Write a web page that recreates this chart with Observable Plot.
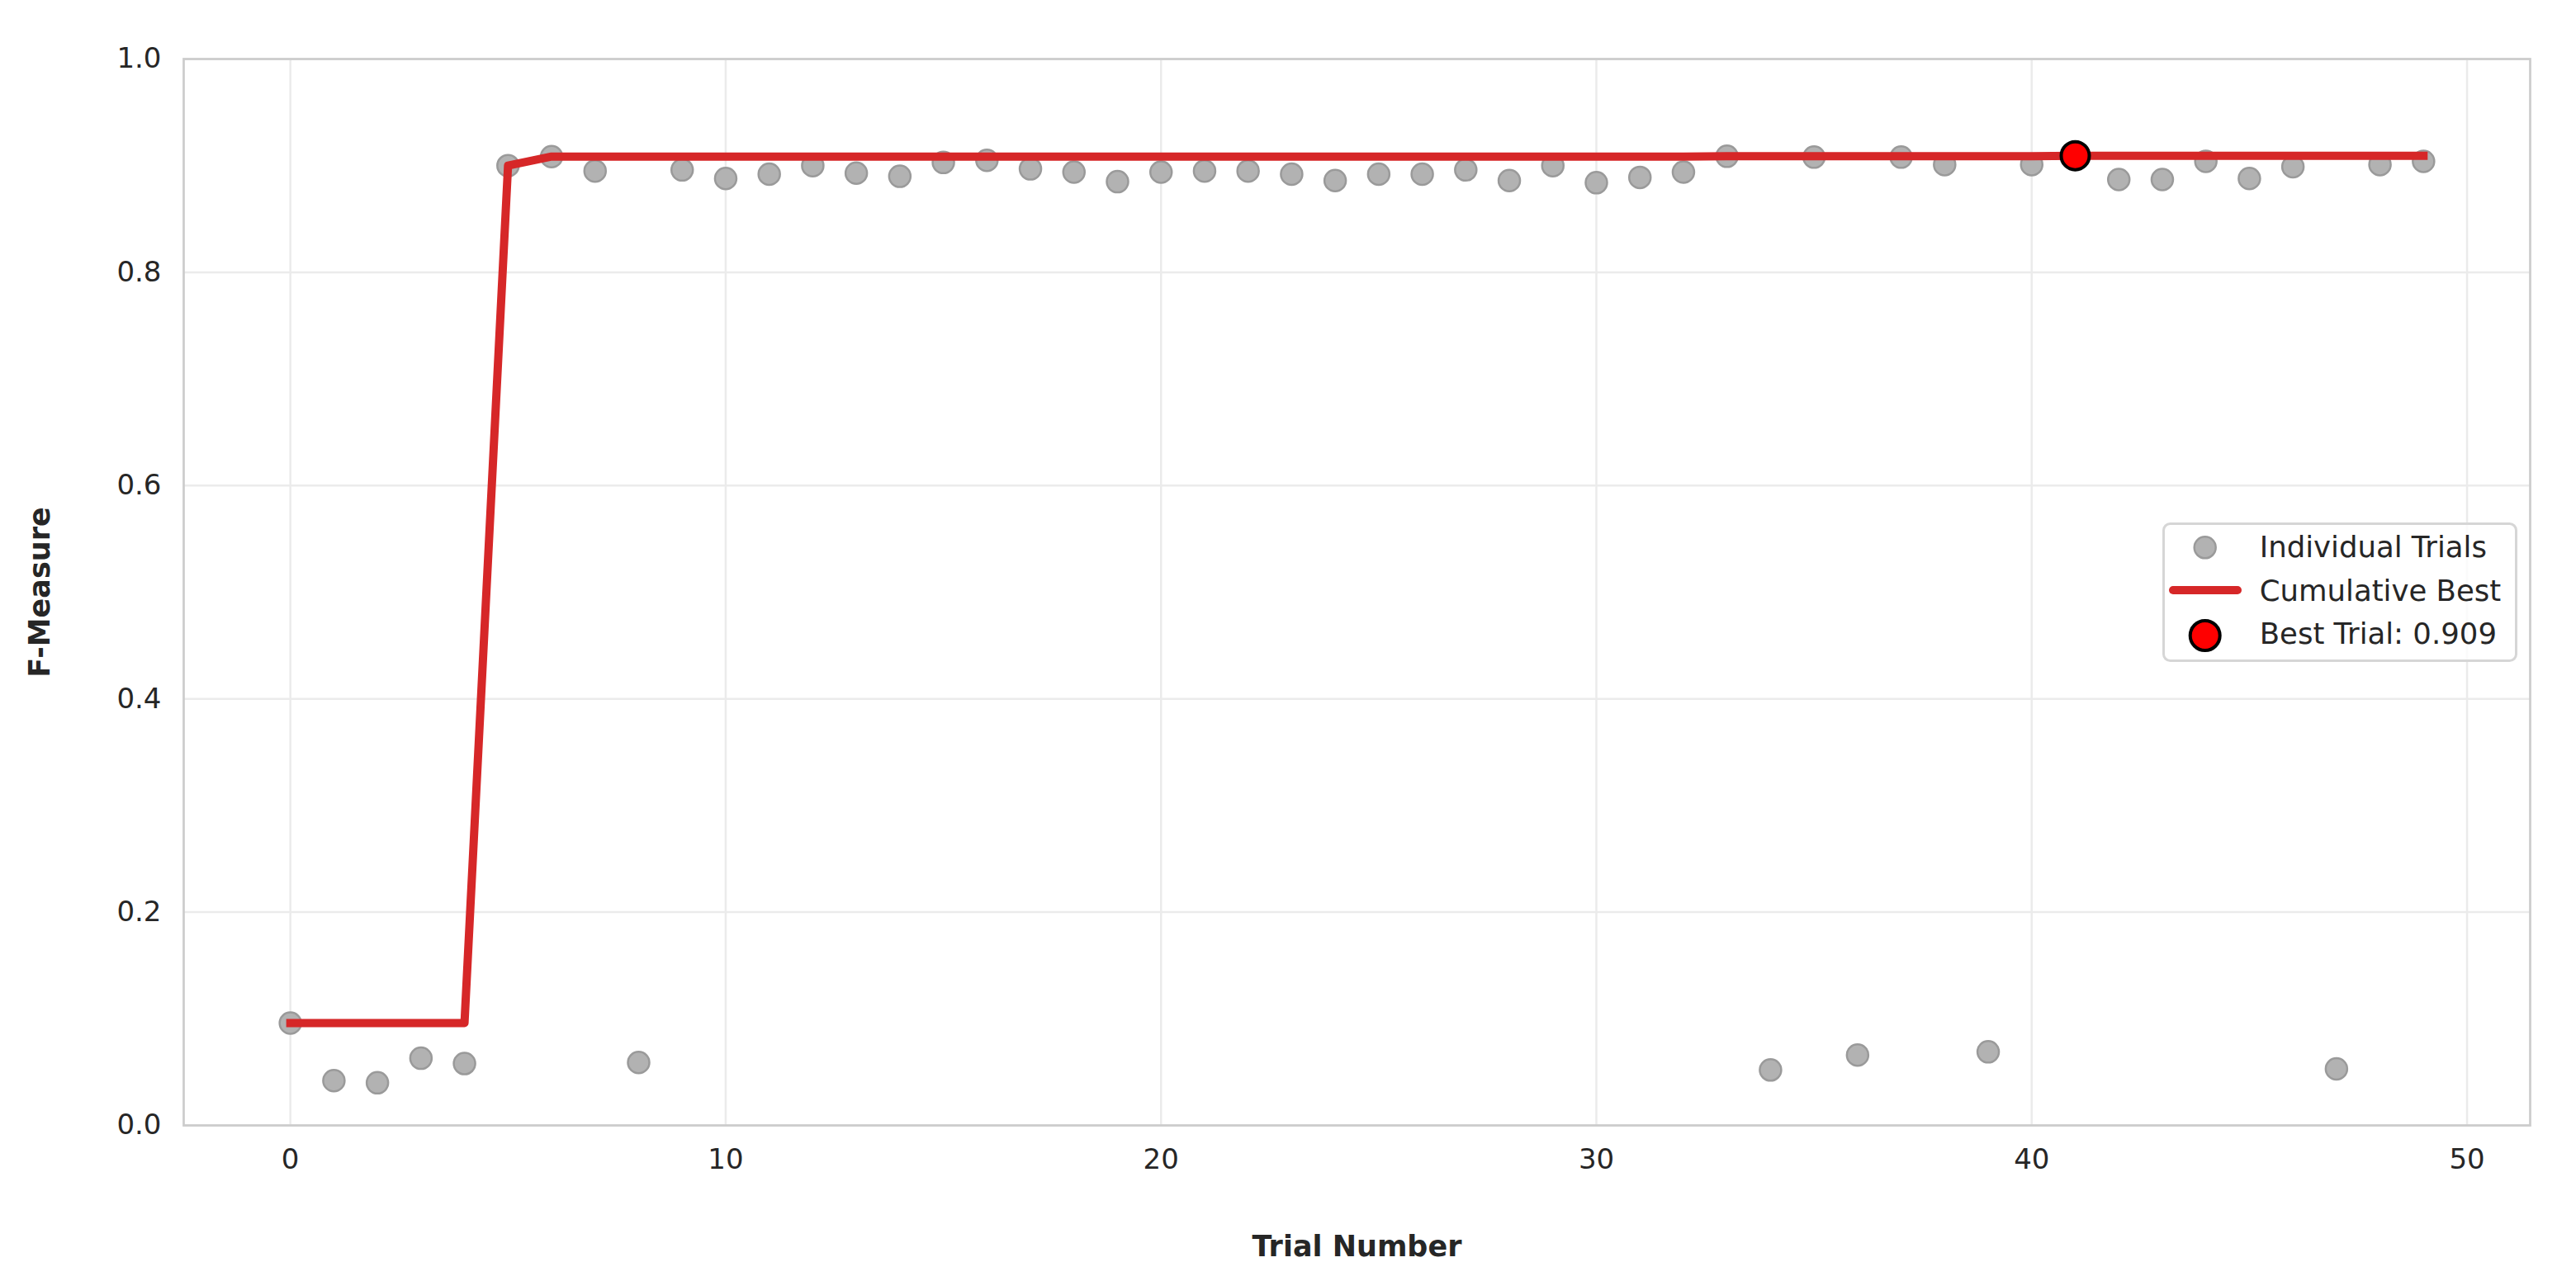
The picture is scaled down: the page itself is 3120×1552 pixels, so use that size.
<!DOCTYPE html>
<html><head><meta charset="utf-8">
<script src="https://cdn.jsdelivr.net/npm/d3@7"></script>
<script src="https://cdn.jsdelivr.net/npm/@observablehq/plot@0.6"></script>
<style>
html,body{margin:0;padding:0;background:#fff;}
#wrap{position:relative;width:3120px;height:1552px;font-family:"DejaVu Sans",sans-serif;}
#legend{position:absolute;left:2619px;top:633px;}
</style></head><body><div id="wrap"></div>
<script>
const trialNumbers = [0,1,2,3,4,5,6,7,8,9,10,11,12,13,14,15,16,17,18,19,20,21,22,23,24,25,26,27,28,29,30,31,32,33,34,35,36,37,38,39,40,41,42,43,44,45,46,47,48,49];
const fMeasure = [0.096,0.042,0.040,0.063,0.058,0.900,0.9085,0.895,0.059,0.896,
  0.888,0.892,0.900,0.893,0.890,0.903,0.905,0.897,0.894,0.885,
  0.894,0.895,0.895,0.892,0.886,0.892,0.892,0.896,0.886,0.900,
  0.884,0.889,0.894,0.9088,0.052,0.908,0.066,0.908,0.901,0.069,
  0.901,0.9093,0.887,0.887,0.904,0.888,0.899,0.053,0.901,0.904];
const xTicks = [0,10,20,30,40,50];
const yTicks = [0,0.2,0.4,0.6,0.8,1.0];
const xTitle = "Trial Number";
const yTitle = "F-Measure";
const legendLabels = ["Individual Trials","Cumulative Best","Best Trial"];

const trials = trialNumbers.map((t,i)=>({trial:t, value:fMeasure[i]}));
let run = -Infinity;
const cumBest = trials.map(d=>({trial:d.trial, value:(run=Math.max(run,d.value))}));
const best = trials.reduce((a,b)=> b.value>a.value? b:a);

const ink = "#262626";
const chart = Plot.plot({
  width:3120, height:1552,
  marginLeft:222, marginRight:56, marginTop:71, marginBottom:189,
  style:{fontFamily:"DejaVu Sans", fontSize:"34px", color:ink, background:"#fff", overflow:"visible"},
  x:{domain:[-2.45,51.45]},
  y:{domain:[0,1]},
  marks:[
    Plot.gridX(xTicks,{stroke:"#ebebeb", strokeOpacity:1, strokeWidth:2.5}),
    Plot.gridY(yTicks,{stroke:"#ebebeb", strokeOpacity:1, strokeWidth:2.5}),
    Plot.frame({stroke:"#cccccc", strokeWidth:2.7}),
    Plot.axisX(xTicks,{tickSize:0, tickPadding:28, tickFormat:d=>String(d), label:null, fontSize:34, fill:ink}),
    Plot.axisY(yTicks,{tickSize:0, tickPadding:27, tickFormat:d3.format(".1f"), label:null, fontSize:34, fill:ink}),
    Plot.text([xTitle],{frameAnchor:"bottom", lineAnchor:"top", dy:134, fontWeight:"bold", fontSize:35, fill:ink}),
    Plot.text([yTitle],{frameAnchor:"left", textAnchor:"middle", lineAnchor:"top", rotate:-90, dx:-187, fontWeight:"bold", fontSize:35, fill:ink}),
    Plot.dot(trials,{x:"trial", y:"value", r:13, fill:"#b2b2b2", stroke:"#9a9a9a", strokeWidth:2.5}),
    Plot.line(cumBest,{x:"trial", y:"value", stroke:"#d62728", strokeWidth:10, strokeLinecap:"square", strokeLinejoin:"round"}),
    Plot.dot([best],{x:"trial", y:"value", r:17, fill:"#ff0000", stroke:"#000000", strokeWidth:4})
  ]
});
const wrap = document.getElementById("wrap");
wrap.appendChild(chart);

// legend overlay
const lg = d3.select(wrap).append("svg").attr("id","legend").attr("width",430).attr("height",169)
  .style("font-family","DejaVu Sans").style("overflow","visible");
lg.append("rect").attr("x",1.5).attr("y",1.5).attr("width",427).attr("height",166).attr("rx",8)
  .attr("fill","#fff").attr("fill-opacity",0.8).attr("stroke","#d6d6d6").attr("stroke-width",3);
lg.append("circle").attr("cx",51.7).attr("cy",30.3).attr("r",13).attr("fill","#b2b2b2").attr("stroke","#9a9a9a").attr("stroke-width",2.5);
lg.append("line").attr("x1",13).attr("x2",91).attr("y1",82).attr("y2",82).attr("stroke","#d62728").attr("stroke-width",10).attr("stroke-linecap","round");
lg.append("circle").attr("cx",51.7).attr("cy",137).attr("r",18).attr("fill","#ff0000").attr("stroke","#000").attr("stroke-width",4);
const texts = [legendLabels[0], legendLabels[1], `${legendLabels[2]}: ${best.value.toFixed(3)}`];
const bases = [42, 94.7, 147];
texts.forEach((t,i)=>lg.append("text").attr("x",117.7).attr("y",bases[i]).attr("font-size",35.5).attr("fill",ink).text(t));
</script></body></html>
